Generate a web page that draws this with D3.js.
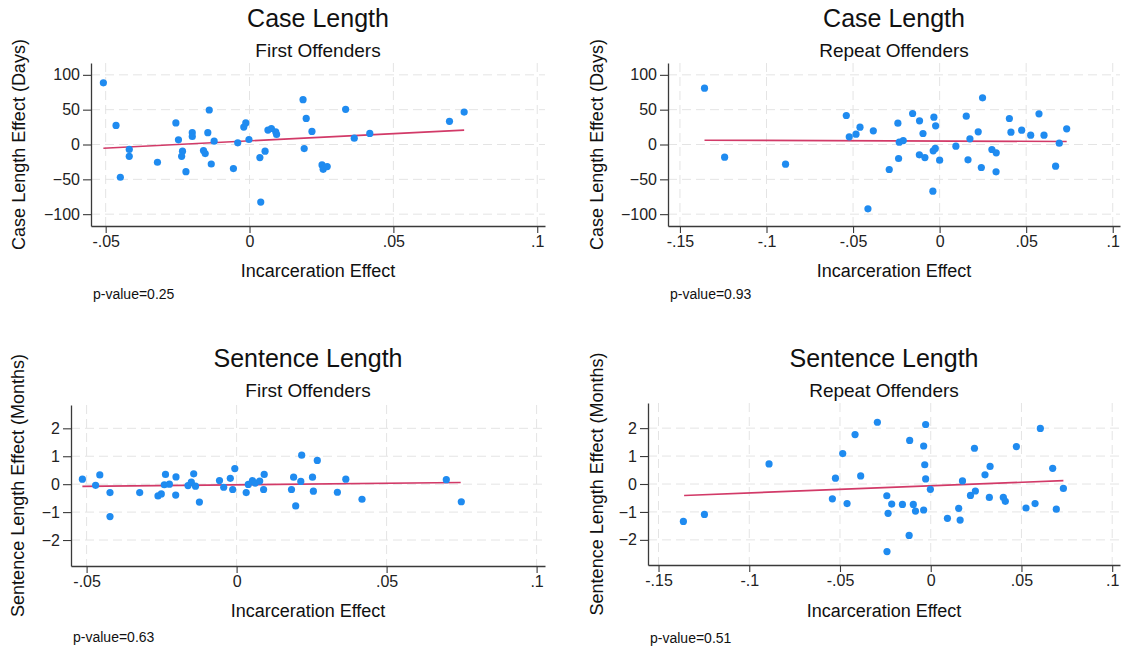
<!DOCTYPE html>
<html>
<head>
<meta charset="utf-8">
<script src="https://cdn.jsdelivr.net/npm/d3@7"></script>
<style>
  body { margin: 0; background: #fff; }
  svg { font-family: "Liberation Sans", Arial, Helvetica, sans-serif; display: block; }
</style>
</head>
<body>
<div id="chart"></div>
<script>
// Values
const caseFirstX = [-0.0508,-0.0464,-0.0449,-0.0418,-0.0418,-0.0320,-0.0256,-0.0247,-0.0233,-0.0236,-0.0221,-0.0199,-0.0199,-0.0160,-0.0154,-0.0145,-0.0140,-0.0133,-0.0123,-0.0056,-0.0041,-0.0020,-0.0013,-0.0002,0.0036,0.0039,0.0054,0.0064,0.0076,0.0091,0.0094,0.0186,0.0190,0.0197,0.0217,0.0252,0.0256,0.0270,0.0334,0.0364,0.0418,0.0695,0.0746];
const caseFirstY = [88.5,27.4,-47,-7,-17,-25.5,31,6.7,-9.6,-17,-39,17,11.5,-8.7,-13,17,49.5,-28,4.8,-34.6,2.4,25,31,7.2,-18.8,-82.7,-9.6,20.7,23,18.3,14.4,64.4,-5.8,37.5,18.8,-29.3,-35.6,-31.7,50.5,9.1,15.9,33.2,46.6];
const caseFirstFitX = [-0.0508, 0.0746];
const caseFirstFitY = [-5.3, 20.7];

const caseRepeatX = [-0.1358,-0.1242,-0.0890,-0.0539,-0.0522,-0.0483,-0.0460,-0.0414,-0.0383,-0.0291,-0.0241,-0.0237,-0.0233,-0.0210,-0.0156,-0.0116,-0.0117,-0.0096,-0.0085,-0.0039,-0.0033,-0.0023,-0.0037,-0.0025,0,0.0094,0.0154,0.0164,0.0175,0.0223,0.0241,0.0248,0.0302,0.0327,0.0326,0.0403,0.0412,0.0474,0.0526,0.0574,0.0603,0.0670,0.0691,0.0734];
const caseRepeatY = [80.9,-18.2,-28.2,41.6,11,14.8,24.9,-92.3,19.6,-35.9,30.6,-20.1,3.3,5.7,44.5,34,-14.8,15.8,-18.7,-67,39.2,26.8,-9.1,-5.7,-22.5,-2.4,40.7,-22,8.1,18.2,-33,67,-7.2,-12,-39.2,37.3,17.7,20.6,13.4,44,13.4,-31.1,1.9,22.5];
const caseRepeatFitX = [-0.1358, 0.0734];
const caseRepeatFitY = [6.2, 4.3];

const sentFirstX = [-0.0514,-0.0470,-0.0456,-0.0422,-0.0422,-0.0323,-0.0262,-0.0251,-0.0237,-0.0241,-0.0224,-0.0203,-0.0202,-0.0162,-0.0151,-0.0143,-0.0137,-0.0124,-0.0057,-0.0043,-0.0021,-0.0013,-0.0006,0.0032,0.0039,0.0053,0.0062,0.0077,0.0090,0.0092,0.0183,0.0190,0.0197,0.0214,0.0217,0.0253,0.0256,0.0269,0.0336,0.0364,0.0418,0.0699,0.0749];
const sentFirstY = [0.18,-0.04,0.33,-0.30,-1.16,-0.30,-0.42,-0.35,0.35,-0.02,0,-0.39,0.26,-0.05,0.07,0.37,-0.07,-0.64,0.13,-0.11,0.21,-0.19,0.56,-0.30,-0.01,0.13,0.04,0.11,-0.19,0.35,-0.19,0.25,-0.78,0.10,1.04,0.25,-0.25,0.85,-0.29,0.18,-0.54,0.16,-0.63];
const sentFirstFitX = [-0.0514, 0.0747];
const sentFirstFitY = [-0.08, 0.06];

const sentRepeatX = [-0.1363,-0.1247,-0.0891,-0.0542,-0.0525,-0.0485,-0.0461,-0.0417,-0.0386,-0.0294,-0.0242,-0.0235,-0.0241,-0.0215,-0.0156,-0.0116,-0.0119,-0.0096,-0.0084,-0.0039,-0.0039,-0.0033,-0.0028,-0.0028,-0.0002,0.0092,0.0154,0.0162,0.0175,0.0219,0.0246,0.0241,0.0299,0.0323,0.0327,0.0400,0.0411,0.0472,0.0525,0.0575,0.0604,0.0672,0.0692,0.0731];
const sentRepeatY = [-1.34,-1.09,0.72,-0.53,0.21,1.09,-0.70,1.77,0.29,2.21,-0.42,-1.05,-2.42,-0.72,-0.73,1.56,-1.84,-0.73,-0.97,1.36,-0.93,0.69,2.13,0.18,-0.19,-1.23,-0.87,-1.29,0.11,-0.41,-0.25,1.28,0.33,-0.48,0.63,-0.48,-0.62,1.34,-0.86,-0.70,1.99,0.56,-0.90,-0.16];
const sentRepeatFitX = [-0.1359, 0.0731];
const sentRepeatFitY = [-0.41, 0.12];

// tick labels
const xTicksFirst = [-0.05, 0, 0.05, 0.1];
const xTicksRepeat = [-0.15, -0.1, -0.05, 0, 0.05, 0.1];
const yTicksCase = [-100, -50, 0, 50, 100];
const yTicksSent = [-2, -1, 0, 1, 2];

const titles = ["Case Length", "Case Length", "Sentence Length", "Sentence Length"];
const subtitles = ["First Offenders", "Repeat Offenders", "First Offenders", "Repeat Offenders"];
const yTitles = ["Case Length Effect (Days)", "Case Length Effect (Days)", "Sentence Length Effect (Months)", "Sentence Length Effect (Months)"];
const xTitle = "Incarceration Effect";
const pValues = ["0.25", "0.93", "0.63", "0.51"];

const width = 1123, height = 647;
const dotColor = "#1f8bf0";
const fitColor = "#d23a68";
const axisColor = "#3a3a3a";
const gridColor = "#e4e4e4";

// Stata-style numbers: .05, -.1, 0
const fmt = d => d === 0 ? "0" : String(d).replace("0.", ".");

const svg = d3.select("#chart")
    .append("svg")
    .attr("width", width)
    .attr("height", height);

// plot boxes per panel
const layout = [
  { l: 91,  r: 545,  t: 63,  b: 226, xd: [-0.0551, 0.1027], yd: [-117, 117], titleY: 27,  subY: 57,  ylabX: 25,  xlabY: 277, pY: 299 },
  { l: 668, r: 1120, t: 63,  b: 226, xd: [-0.1569, 0.1042], yd: [-117, 117], titleY: 27,  subY: 57,  ylabX: 603, xlabY: 277, pY: 299 },
  { l: 71,  r: 545,  t: 405, b: 566, xd: [-0.0552, 0.1028], yd: [-2.93, 2.835], titleY: 367, subY: 397, ylabX: 24, xlabY: 617, pY: 642 },
  { l: 648, r: 1120, t: 403, b: 565, xd: [-0.1558, 0.1043], yd: [-2.9, 2.9],  titleY: 367, subY: 397, ylabX: 603, xlabY: 617, pY: 643 }
];

const panelData = [
  { xs: caseFirstX, ys: caseFirstY, fx: caseFirstFitX, fy: caseFirstFitY, xt: xTicksFirst, yt: yTicksCase },
  { xs: caseRepeatX, ys: caseRepeatY, fx: caseRepeatFitX, fy: caseRepeatFitY, xt: xTicksRepeat, yt: yTicksCase },
  { xs: sentFirstX, ys: sentFirstY, fx: sentFirstFitX, fy: sentFirstFitY, xt: xTicksFirst, yt: yTicksSent },
  { xs: sentRepeatX, ys: sentRepeatY, fx: sentRepeatFitX, fy: sentRepeatFitY, xt: xTicksRepeat, yt: yTicksSent }
];

panelData.forEach((p, i) => {
  const L = layout[i];
  const x = d3.scaleLinear().domain(L.xd).range([L.l, L.r]);
  const y = d3.scaleLinear().domain(L.yd).range([L.b, L.t]);
  const g = svg.append("g");

  // grid
  g.append("g").selectAll("line").data(p.yt).join("line")
    .attr("x1", L.l).attr("x2", L.r)
    .attr("y1", d => y(d)).attr("y2", d => y(d))
    .attr("stroke", gridColor).attr("stroke-width", 1)
    .attr("stroke-dasharray", "9,5");
  g.append("g").selectAll("line").data(p.xt).join("line")
    .attr("x1", d => x(d)).attr("x2", d => x(d))
    .attr("y1", L.t).attr("y2", L.b)
    .attr("stroke", gridColor).attr("stroke-width", 1)
    .attr("stroke-dasharray", "9,5");

  // axes
  const yAxis = g.append("g")
    .attr("transform", `translate(${L.l},0)`)
    .call(d3.axisLeft(y).tickValues(p.yt).tickFormat(d3.format("d")).tickSizeInner(8).tickSizeOuter(0).tickPadding(3));
  const xAxis = g.append("g")
    .attr("transform", `translate(0,${L.b})`)
    .call(d3.axisBottom(x).tickValues(p.xt).tickFormat(fmt).tickSizeInner(7).tickSizeOuter(0).tickPadding(3));
  [xAxis, yAxis].forEach(a => {
    a.select(".domain").attr("stroke", axisColor).attr("stroke-width", 1.3);
    a.selectAll(".tick line").attr("stroke", axisColor).attr("stroke-width", 1.1);
    a.selectAll(".tick text")
      .attr("fill", "#222")
      .style("font-size", "16px")
      .style("font-family", "'Liberation Sans', Arial, sans-serif");
  });
  // replace hyphen with the minus-like hyphen Stata uses (keep plain)

  // fitted line
  g.append("line")
    .attr("x1", x(p.fx[0])).attr("y1", y(p.fy[0]))
    .attr("x2", x(p.fx[1])).attr("y2", y(p.fy[1]))
    .attr("stroke", fitColor).attr("stroke-width", 1.6);

  // dots
  g.append("g").selectAll("circle").data(p.xs.map((v, k) => [v, p.ys[k]])).join("circle")
    .attr("cx", d => x(d[0])).attr("cy", d => y(d[1]))
    .attr("r", 3.6)
    .attr("fill", dotColor);

  const cx = (L.l + L.r) / 2;
  // titles
  g.append("text").attr("x", cx).attr("y", L.titleY)
    .attr("text-anchor", "middle").attr("fill", "#111")
    .style("font-size", "25px").text(titles[i]);
  g.append("text").attr("x", cx).attr("y", L.subY)
    .attr("text-anchor", "middle").attr("fill", "#111")
    .style("font-size", "19px").text(subtitles[i]);

  // axis titles
  g.append("text").attr("x", cx).attr("y", L.xlabY)
    .attr("text-anchor", "middle").attr("fill", "#111")
    .style("font-size", "18px").text(xTitle);
  g.append("text")
    .attr("transform", `translate(${L.ylabX},${(L.t + L.b) / 2}) rotate(-90)`)
    .attr("text-anchor", "middle").attr("fill", "#111")
    .style("font-size", "18px").text(yTitles[i]);

  // p-value note
  g.append("text").attr("x", L.l + 2).attr("y", L.pY)
    .attr("fill", "#111")
    .style("font-size", "14px").text("p-value=" + pValues[i]);
});
</script>
</body>
</html>
